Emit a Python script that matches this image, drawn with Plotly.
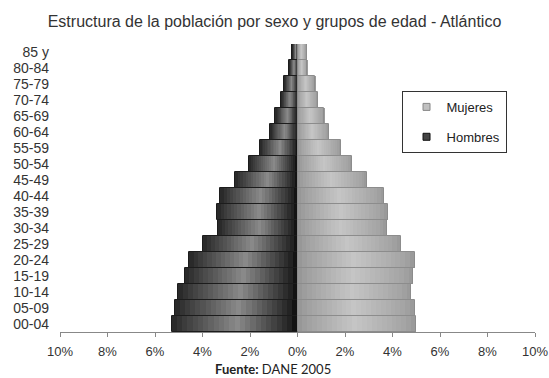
import plotly.graph_objects as go

age_groups = ["00-04", "05-09", "10-14", "15-19", "20-24", "25-29", "30-34", "35-39",
              "40-44", "45-49", "50-54", "55-59", "60-64", "65-69", "70-74", "75-79",
              "80-84", "85 y"]
hombres = [5.30, 5.16, 5.02, 4.75, 4.56, 3.98, 3.33, 3.38, 3.25, 2.62, 2.05, 1.59,
           1.16, 0.93, 0.69, 0.56, 0.35, 0.22]
mujeres = [5.00, 4.95, 4.79, 4.88, 4.95, 4.36, 3.77, 3.80, 3.66, 2.94, 2.31, 1.83,
           1.33, 1.13, 0.85, 0.74, 0.41, 0.39]
tick_vals = [-10, -8, -6, -4, -2, 0, 2, 4, 6, 8, 10]
tick_text = ["10%", "8%", "6%", "4%", "2%", "0%", "2%", "4%", "6%", "8%", "10%"]

N_SEG = 24


def interp(t, pts):
    for (t0, v0), (t1, v1) in zip(pts, pts[1:]):
        if t0 <= t <= t1:
            return v0 + (v1 - v0) * (t - t0) / (t1 - t0)
    return pts[-1][1]


# grey level profiles, t = 0 at 0% (inner end), t = 1 at outer end
h_prof = [(0, 12), (0.06, 35), (0.48, 138), (0.9, 60), (1.0, 38)]
m_prof = [(0, 148), (0.08, 160), (0.48, 198), (0.9, 165), (1.0, 152)]

fig = go.Figure()
for k in range(N_SEG):
    t = (k + 0.5) / N_SEG
    g = int(interp(t, h_prof))
    fig.add_trace(go.Bar(
        y=age_groups, x=[-v / N_SEG for v in hombres], orientation="h",
        marker=dict(color=f"rgb({g},{g},{g})", line=dict(width=0)),
        showlegend=False, hoverinfo="skip"))
    g = int(interp(t, m_prof))
    fig.add_trace(go.Bar(
        y=age_groups, x=[v / N_SEG for v in mujeres], orientation="h",
        marker=dict(color=f"rgb({g},{g},{g})", line=dict(width=0)),
        showlegend=False, hoverinfo="skip"))

# outlines of the whole bars
fig.add_trace(go.Bar(y=age_groups, x=[-v for v in hombres], orientation="h",
                     yaxis="y2", marker=dict(color="rgba(0,0,0,0)",
                                             line=dict(color="#1c1c1c", width=1)),
                     showlegend=False, hoverinfo="skip"))
fig.add_trace(go.Bar(y=age_groups, x=mujeres, orientation="h",
                     yaxis="y2", marker=dict(color="rgba(0,0,0,0)",
                                             line=dict(color="#8c8c8c", width=1)),
                     showlegend=False, hoverinfo="skip"))

fig.add_trace(go.Scatter(x=[None], y=[None], mode="markers", name="Mujeres",
                         marker=dict(symbol="square", size=7, color="#c0c0c0",
                                     line=dict(color="#888", width=1)),
                         legendgroup="m"))
fig.add_trace(go.Scatter(x=[None], y=[None], mode="markers", name="Hombres",
                         marker=dict(symbol="square", size=7, color="#444",
                                     line=dict(color="#111", width=1)),
                         legendgroup="h"))

fig.update_layout(
    width=549, height=378,
    margin=dict(l=60, r=14, t=44, b=46, autoexpand=False),
    paper_bgcolor="white", plot_bgcolor="white",
    barmode="relative", bargap=0,
    title=dict(text="Estructura de la población por sexo y grupos de edad - Atlántico",
               x=0.5, xref="container", xanchor="center",
               y=1 - 21 / 378, yref="container", yanchor="middle",
               font=dict(family="Liberation Sans Narrow, Arial Narrow, Arial", size=16,
                         color="#333")),
    xaxis=dict(range=[-10, 10], tickvals=tick_vals, ticktext=tick_text,
               showgrid=False, zeroline=False, showline=True, linecolor="#888",
               linewidth=1, ticks="outside", ticklen=4, tickcolor="#888",
               automargin=False, ticklabelstandoff=3,
               tickfont=dict(family="Liberation Sans, Arial", size=13, color="#333"),
               fixedrange=True),
    yaxis=dict(type="category", categoryorder="array", categoryarray=age_groups,
               range=[-0.5, len(age_groups) - 0.5], showgrid=False, dtick=1,
               zeroline=False, showline=False, ticks="", ticklabelstandoff=10,
               automargin=False,
               tickfont=dict(family="Liberation Sans, Arial", size=14, color="#333")),
    yaxis2=dict(type="category", categoryorder="array", categoryarray=age_groups,
                range=[-0.5, len(age_groups) - 0.5], overlaying="y", visible=False,
                automargin=False),
    legend=dict(x=0.719, y=0.837, xanchor="left", yanchor="top",
                bordercolor="#333", borderwidth=1, bgcolor="white",
                traceorder="grouped", tracegroupgap=10, indentation=4,
                font=dict(family="Liberation Sans, Arial", size=13, color="#222")),
    annotations=[dict(text="<b>Fuente:</b> DANE 2005",
                      x=(273 - 60) / 475, xref="paper",
                      y=(332 - 369) / 288, yref="paper", showarrow=False,
                      yanchor="middle",
                      font=dict(family="Lato, Noto Sans", size=13, color="#222"))],
)
fig.write_html("out.html")
